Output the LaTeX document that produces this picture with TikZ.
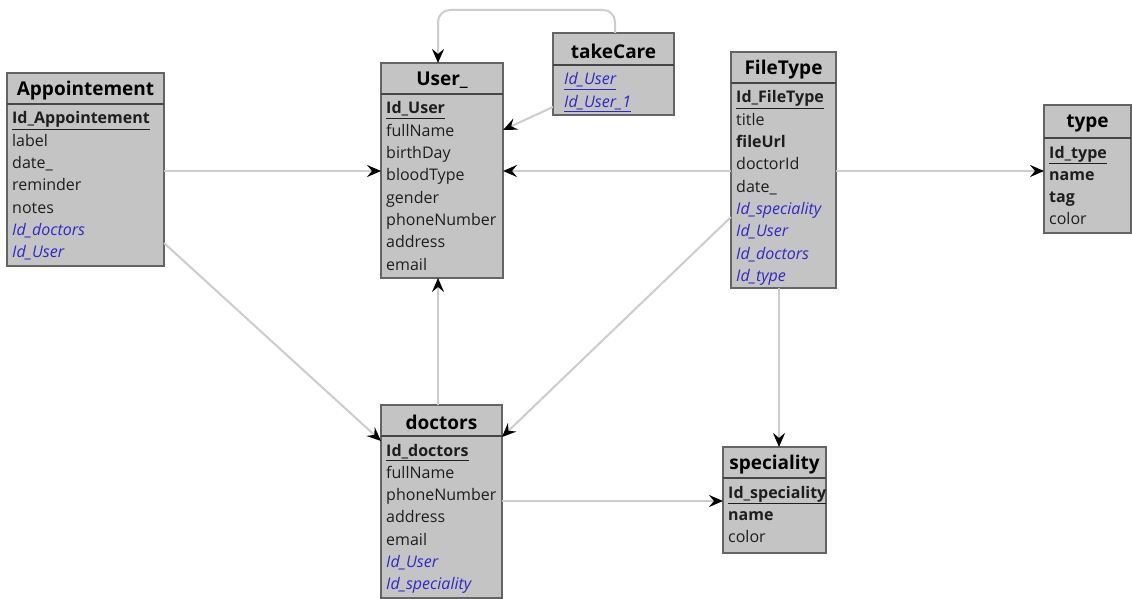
\documentclass[tikz,border=0pt]{standalone}
\usepackage{fontspec}
\setmainfont{Open Sans}
\usetikzlibrary{arrows.meta,calc}

\definecolor{boxfill}{RGB}{196,196,196}
\definecolor{boxline}{RGB}{100,100,100}
\definecolor{headline}{RGB}{70,70,70}
\definecolor{fkblue}{RGB}{45,40,200}
\definecolor{textdark}{RGB}{30,30,30}
\definecolor{linkgray}{RGB}{205,205,205}

% field formats
\newcommand\pkey[1]{\textbf{\underline{#1}}}
\newcommand\fkey[1]{\textcolor{fkblue}{\textit{#1}}}
\newcommand\fkeyu[1]{\textcolor{fkblue}{\textit{\underline{#1}}}}

\tikzset{
  tablebox/.style={draw=boxline, line width=1.4pt, fill=boxfill, inner sep=0pt, outer sep=0pt},
  tabletitle/.style={font=\fontsize{19}{21}\selectfont\bfseries, text=black, inner sep=0pt},
  fieldrow/.style={font=\fontsize{16}{18}\selectfont, text=textdark, anchor=west, inner sep=0pt,
                   text height=11.5pt, text depth=3.5pt},
  link/.style={draw=linkgray, line width=2pt,
               -{Stealth[length=14pt,width=12pt,inset=5pt,color=black]}},
}

% \erbox{name}{left}{top}{right}{bottom}{header line}{title}{fields}
\newcommand\erbox[8]{%
  \node[tablebox, anchor=north west, minimum width={(#4-#2)*1pt}, minimum height={(#5-#3)*1pt}]
    (#1) at (#2,#3) {};
  \draw[headline, line width=1.4pt] (#2,#6) -- (#4,#6);
  \node[tabletitle] (#1-title) at ({(#2+#4)/2},{(#3+#6)/2+2}) {#7};
  \foreach \fld [count=\i from 0] in {#8} {
    \node[fieldrow] (#1-f\i) at (#2+5, #6+16+22.3*\i) {\fld};
  }%
}

\begin{document}
\begin{tikzpicture}[x=1pt, y=-1pt]
  \useasboundingbox[fill=white] (0,0) rectangle (1132,599);

  % tables
  \erbox{appt}{7}{73}{164}{266}{104}{Appointement}
    {\pkey{Id\_Appointement}, label, date\_, reminder, notes, \fkey{Id\_doctors}, \fkey{Id\_User}}
  \erbox{user}{381}{63}{503}{278}{94}{User\_}
    {\pkey{Id\_User}, fullName, birthDay, bloodType, gender, phoneNumber, address, email}
  \erbox{care}{553}{33}{674}{115}{65}{takeCare}
    {\hspace*{6pt}\fkeyu{Id\_User}, \hspace*{6pt}\fkeyu{Id\_User\_1}}
  \erbox{ftype}{731}{52}{836}{288}{83}{FileType}
    {\pkey{Id\_FileType}, title, \textbf{fileUrl}, doctorId, date\_, \fkey{Id\_speciality},
     \fkey{Id\_User}, \fkey{Id\_doctors}, \fkey{Id\_type}}
  \erbox{type}{1044}{105}{1131}{233}{138}{type}
    {\pkey{Id\_type}, \textbf{name}, \textbf{tag}, color}
  \erbox{doc}{381}{405}{502}{598}{436}{doctors}
    {\pkey{Id\_doctors}, fullName, phoneNumber, address, email, \fkey{Id\_User}, \fkey{Id\_speciality}}
  \erbox{spec}{723}{447}{826}{553}{478}{speciality}
    {\pkey{Id\_speciality}, \textbf{name}, color}

  % relations
  \coordinate (loopR) at (615,10);
  \coordinate (loopL) at (438,10);
  \draw[link, rounded corners=12pt] (care.north -| loopR) -- (loopR) -- (loopL) -- (user.north -| loopL);
  \draw[link] (care.west |- 0,107) -- (user.east |- 0,130);
  \draw[link] (appt.east |- 0,171) -- (user.west |- 0,171);
  \draw[link] (ftype.west |- 0,171) -- (user.east |- 0,171);
  \draw[link] (ftype.east |- 0,171) -- (type.west |- 0,171);
  \draw[link] (appt.east |- 0,243) -- (doc.west |- 0,441);
  \draw[link] (ftype.west |- 0,217) -- (doc.east |- 0,437);
  \draw[link] (doc.north -| 438,0) -- (user.south -| 438,0);
  \draw[link] (ftype.south -| 779,0) -- (spec.north -| 779,0);
  \draw[link] (doc.east |- 0,501) -- (spec.west |- 0,501);
\end{tikzpicture}
\end{document}
